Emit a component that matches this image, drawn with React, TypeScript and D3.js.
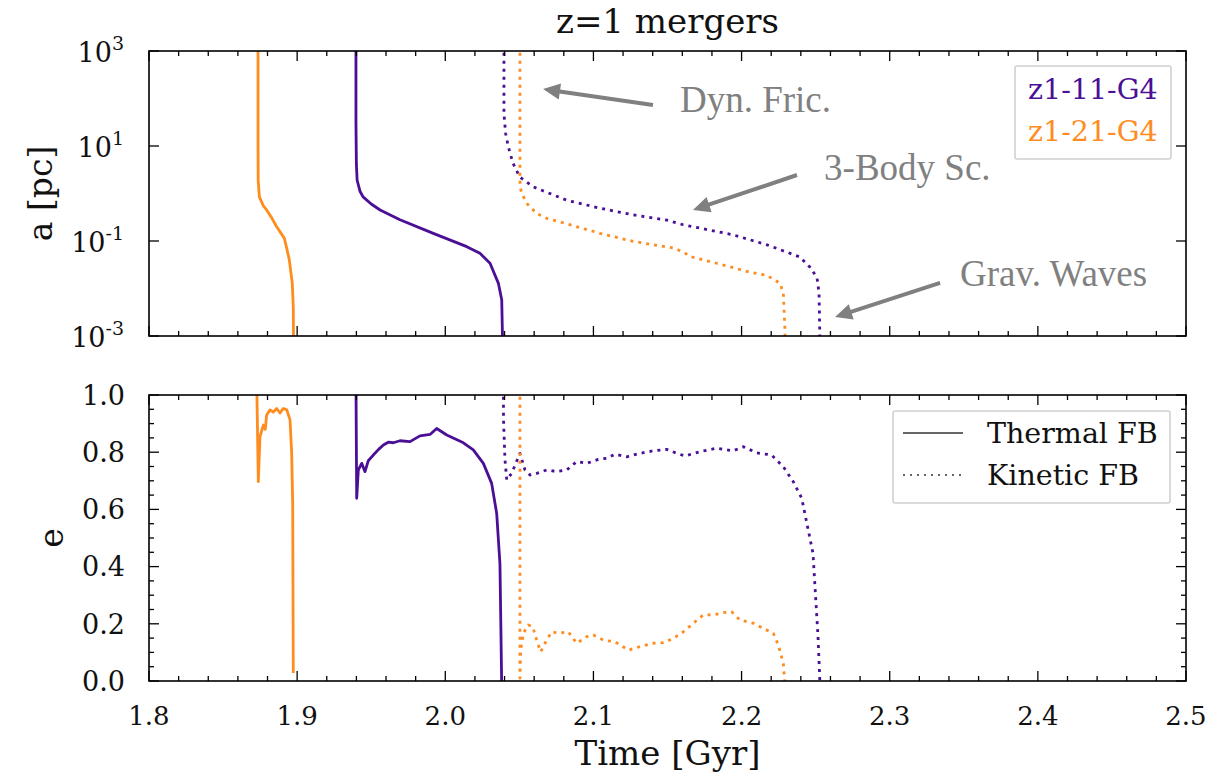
import React from "react";
import * as d3 from "d3";

// ---------- data ----------
const xMajorTicks = [1.8, 1.9, 2.0, 2.1, 2.2, 2.3, 2.4, 2.5];
const aTickExps = [-3, -1, 1, 3];
const eMajorTicks = [0, 0.2, 0.4, 0.6, 0.8, 1.0];

const runNames = ["z1-11-G4", "z1-21-G4"];
const runColors = ["#4b0f96", "#ff8c1f"];
const fbNames = ["Thermal FB", "Kinetic FB"];

// semi-major axis a [pc] vs time [Gyr]
const a11Thermal: [number, number][] = [
  [1.9397, 2000], [1.9397, 30], [1.94, 4.0], [1.9405, 1.9], [1.9425, 1.1], [1.9445, 0.85],
  [1.95, 0.6], [1.956, 0.45], [1.9694, 0.28], [1.9919, 0.145], [2.0145, 0.076], [2.0234, 0.055],
  [2.0302, 0.034], [2.0358, 0.013], [2.0381, 0.0058], [2.0388, 0.0005],
];
const a21Thermal: [number, number][] = [
  [1.8736, 2000], [1.8736, 10], [1.8737, 1.9], [1.8745, 0.85], [1.8772, 0.55], [1.8794, 0.45],
  [1.883, 0.3], [1.8862, 0.2], [1.8913, 0.115], [1.893, 0.07], [1.8947, 0.04], [1.8967, 0.013],
  [1.8974, 0.004], [1.8976, 0.0005],
];
const a11Kinetic: [number, number][] = [
  [2.0396, 2000], [2.0396, 49], [2.0407, 18.6], [2.0425, 9.8], [2.0456, 4.4], [2.0504, 2.2],
  [2.0594, 1.38], [2.082, 0.72], [2.1044, 0.49], [2.1267, 0.355], [2.1497, 0.275], [2.1605, 0.22],
  [2.1942, 0.135], [2.2172, 0.083], [2.2394, 0.046], [2.2462, 0.028], [2.2509, 0.017],
  [2.2523, 0.0081], [2.253, 0.0005],
];
const a21Kinetic: [number, number][] = [
  [2.0504, 2000], [2.0504, 1.9], [2.0505, 1.38], [2.0516, 1.01], [2.055, 0.62], [2.0617, 0.38],
  [2.0685, 0.3], [2.082, 0.23], [2.1044, 0.145], [2.1269, 0.098], [2.1539, 0.071], [2.1607, 0.059],
  [2.1652, 0.047], [2.1832, 0.034], [2.2057, 0.022], [2.2169, 0.019], [2.226, 0.0129],
  [2.2282, 0.0079], [2.2293, 0.0013], [2.2294, 0.0005],
];

// eccentricity e vs time [Gyr]
const e21Thermal: [number, number][] = [
  [1.8727, 1.05], [1.8738, 0.697], [1.8749, 0.854], [1.8772, 0.895], [1.8785, 0.88], [1.8794, 0.93],
  [1.8817, 0.948], [1.8839, 0.94], [1.8862, 0.953], [1.8884, 0.937], [1.8907, 0.953], [1.893, 0.948],
  [1.8952, 0.913], [1.8963, 0.797], [1.897, 0.622], [1.8974, 0.028],
];
const e11Thermal: [number, number][] = [
  [1.9397, 1.05], [1.9402, 0.639], [1.9413, 0.738], [1.9436, 0.761], [1.9458, 0.732], [1.948, 0.77],
  [1.9514, 0.79], [1.955, 0.81], [1.9582, 0.825], [1.9615, 0.835], [1.9649, 0.833], [1.9694, 0.84],
  [1.9762, 0.837], [1.9829, 0.857], [1.9897, 0.862], [1.9942, 0.883], [2.001, 0.86], [2.0122, 0.833],
  [2.0189, 0.808], [2.0257, 0.761], [2.0313, 0.691], [2.0347, 0.586], [2.0369, 0.41], [2.0381, -0.02],
];
const e11Kinetic: [number, number][] = [
  [2.0392, 1.05], [2.0393, 0.913], [2.0403, 0.773], [2.0415, 0.703], [2.0448, 0.726], [2.0504, 0.796],
  [2.0538, 0.738], [2.0572, 0.72], [2.0617, 0.726], [2.0685, 0.738], [2.0752, 0.732], [2.082, 0.738],
  [2.0887, 0.767], [2.0955, 0.761], [2.1033, 0.775], [2.109, 0.779], [2.1146, 0.793], [2.1225, 0.784],
  [2.1314, 0.796], [2.1404, 0.805], [2.1495, 0.81], [2.1562, 0.796], [2.1618, 0.787], [2.172, 0.802],
  [2.1832, 0.814], [2.1944, 0.805], [2.2012, 0.819], [2.2102, 0.798], [2.2203, 0.79], [2.2282, 0.749],
  [2.2349, 0.697], [2.2406, 0.639], [2.2482, 0.447], [2.2516, 0.155], [2.253, -0.02],
];
const e21Kinetic: [number, number][] = [
  [2.0504, 1.05], [2.0504, 0.01], [2.0509, 0.108], [2.0527, 0.167], [2.056, 0.196], [2.059, 0.19],
  [2.0617, 0.143], [2.0644, 0.102], [2.0673, 0.132], [2.0718, 0.172], [2.0763, 0.167], [2.083, 0.172],
  [2.0887, 0.132], [2.0955, 0.155], [2.0999, 0.161], [2.1067, 0.143], [2.1146, 0.137], [2.1236, 0.108],
  [2.1314, 0.12], [2.1404, 0.132], [2.1472, 0.134], [2.1539, 0.149], [2.1607, 0.172], [2.1674, 0.202],
  [2.1742, 0.231], [2.1809, 0.231], [2.1877, 0.239], [2.1933, 0.242], [2.1989, 0.213], [2.2079, 0.202],
  [2.2147, 0.184], [2.2214, 0.167], [2.2248, 0.126], [2.2282, 0.062], [2.2293, -0.02],
];

// annotations: label, text anchor (t, a), arrow tail (t, a), arrow tip (t, a)
const annLabels = ["Dyn. Fric.", "3-Body Sc.", "Grav. Waves"];
const annText: [number, number][] = [[2.1584, 52], [2.2557, 1.92], [2.3475, 0.0113]];
const annTail: [number, number][] = [[2.1402, 73], [2.2374, 2.45], [2.334, 0.0131]];
const annTip: [number, number][] = [[2.066, 158], [2.1672, 0.45], [2.2631, 0.0025]];

// ---------- layout ----------
const W = 1229;
const H = 777;
const L = 149;
const R = 1186;
const topT = 51;
const topB = 336;
const botT = 395;
const botB = 681;
const SERIF = "'DejaVu Serif', serif";
const TIMES = "'Liberation Serif', 'Times New Roman', serif";

export default function App() {
  const x = d3.scaleLinear().domain([1.8, 2.5]).range([L, R]);
  const yA = d3.scaleLog().domain([1e-3, 1e3]).range([topB, topT]);
  const yE = d3.scaleLinear().domain([0, 1]).range([botB, botT]);

  const lineA = d3.line<[number, number]>().x((d) => x(d[0])).y((d) => yA(d[1]));
  const lineE = d3.line<[number, number]>().x((d) => x(d[0])).y((d) => yE(d[1]));

  const xMinor = d3.range(0, 36).map((i) => 1.8 + i * 0.02);
  const eMinor = d3.range(0, 21).map((i) => i * 0.05);

  const dotted = "3 5";
  const lw = 2.8;

  const xTicks = (yEdgeBottom: number, yEdgeTop: number, key: string) => (
    <g key={key} stroke="#000" strokeWidth={1.3}>
      {xMinor.map((t, i) => {
        const major = i % 5 === 0;
        const len = major ? 10 : 5;
        return (
          <g key={i}>
            <line x1={x(t)} x2={x(t)} y1={yEdgeBottom} y2={yEdgeBottom - len} />
            <line x1={x(t)} x2={x(t)} y1={yEdgeTop} y2={yEdgeTop + len} />
          </g>
        );
      })}
    </g>
  );

  const arrow = (tail: [number, number], tip: [number, number], k: number) => {
    const x1 = x(tail[0]);
    const y1 = yA(tail[1]);
    const x2 = x(tip[0]);
    const y2 = yA(tip[1]);
    const dx = x2 - x1;
    const dy = y2 - y1;
    const len = Math.sqrt(dx * dx + dy * dy);
    const ux = dx / len;
    const uy = dy / len;
    const hl = 17;
    const hw = 8;
    const bx = x2 - ux * hl;
    const by = y2 - uy * hl;
    const pts = [
      [x2, y2],
      [bx - uy * hw, by + ux * hw],
      [bx + uy * hw, by - ux * hw],
    ]
      .map((p) => p.join(","))
      .join(" ");
    return (
      <g key={k}>
        <line x1={x1} y1={y1} x2={bx + ux * 2} y2={by + uy * 2} stroke="#808080" strokeWidth={4} />
        <polygon points={pts} fill="#808080" />
      </g>
    );
  };

  return (
    <svg
      width={W}
      height={H}
      style={{ position: "absolute", left: 0, top: 0, background: "#fff" }}
      fontFamily={SERIF}
    >
      <defs>
        <clipPath id="clipTop">
          <rect x={L} y={topT} width={R - L} height={topB - topT} />
        </clipPath>
        <clipPath id="clipBot">
          <rect x={L} y={botT} width={R - L} height={botB - botT} />
        </clipPath>
      </defs>
      <rect width={W} height={H} fill="#fff" />

      {/* title */}
      <text x={(L + R) / 2} y={33} textAnchor="middle" fontSize={34} fill="#111">
        z=1 mergers
      </text>

      {/* ---------- top panel ---------- */}
      <g clipPath="url(#clipTop)" fill="none" strokeLinejoin="round">
        <path d={lineA(a21Thermal) || ""} stroke={runColors[1]} strokeWidth={lw} />
        <path d={lineA(a11Thermal) || ""} stroke={runColors[0]} strokeWidth={lw} />
        <path d={lineA(a11Kinetic) || ""} stroke={runColors[0]} strokeWidth={lw} strokeDasharray={dotted} />
        <path d={lineA(a21Kinetic) || ""} stroke={runColors[1]} strokeWidth={lw} strokeDasharray={dotted} />
      </g>

      {xTicks(topB, topT, "xt-top")}
      <g stroke="#000" strokeWidth={1.3}>
        {aTickExps.map((e) => (
          <g key={e}>
            <line x1={L} x2={L + 10} y1={yA(10 ** e)} y2={yA(10 ** e)} />
            <line x1={R} x2={R - 10} y1={yA(10 ** e)} y2={yA(10 ** e)} />
          </g>
        ))}
      </g>
      {aTickExps.map((e) => (
        <text key={e} x={124} y={yA(10 ** e) + 11} textAnchor="end" fontSize={27} fill="#111">
          <tspan>10</tspan>
          <tspan dy={-12} fontSize={19}>{e < 0 ? "-" + Math.abs(e) : String(e)}</tspan>
        </text>
      ))}
      <rect x={L} y={topT} width={R - L} height={topB - topT} fill="none" stroke="#000" strokeWidth={1.6} />
      <text
        transform={`translate(52, ${(topT + topB) / 2}) rotate(-90)`}
        textAnchor="middle"
        fontSize={33}
        fill="#111"
      >
        a [pc]
      </text>

      {/* annotations */}
      {annLabels.map((lab, i) => (
        <text key={lab} x={x(annText[i][0])} y={yA(annText[i][1])} fontFamily={TIMES} fontSize={37} fill="#808080">
          {lab}
        </text>
      ))}
      {annLabels.map((_, i) => arrow(annTail[i], annTip[i], i))}

      {/* legend top */}
      <rect x={1015} y={66} width={156} height={93} fill="#fff" stroke="#d0d0d0" strokeWidth={1.6} rx={2} />
      {runNames.map((n, i) => (
        <text key={n} x={1028} y={99 + i * 42} fontSize={28.5} fill={runColors[i]}>
          {n}
        </text>
      ))}

      {/* ---------- bottom panel ---------- */}
      <g clipPath="url(#clipBot)" fill="none" strokeLinejoin="round">
        <path d={lineE(e21Thermal) || ""} stroke={runColors[1]} strokeWidth={lw} />
        <path d={lineE(e11Thermal) || ""} stroke={runColors[0]} strokeWidth={lw} />
        <path d={lineE(e11Kinetic) || ""} stroke={runColors[0]} strokeWidth={lw} strokeDasharray={dotted} />
        <path d={lineE(e21Kinetic) || ""} stroke={runColors[1]} strokeWidth={lw} strokeDasharray={dotted} />
      </g>

      {xTicks(botB, botT, "xt-bot")}
      <g stroke="#000" strokeWidth={1.3}>
        {eMinor.map((v, i) => {
          const len = i % 4 === 0 ? 10 : 5;
          return (
            <g key={i}>
              <line x1={L} x2={L + len} y1={yE(v)} y2={yE(v)} />
              <line x1={R} x2={R - len} y1={yE(v)} y2={yE(v)} />
            </g>
          );
        })}
      </g>
      {eMajorTicks.map((v) => (
        <text key={v} x={125} y={yE(v)} dy="0.36em" textAnchor="end" fontSize={27} fill="#111">
          {v.toFixed(1)}
        </text>
      ))}
      {xMajorTicks.map((t) => (
        <text key={t} x={x(t)} y={725} textAnchor="middle" fontSize={26} fill="#111">
          {t.toFixed(1)}
        </text>
      ))}
      <rect x={L} y={botT} width={R - L} height={botB - botT} fill="none" stroke="#000" strokeWidth={1.6} />
      <text
        transform={`translate(63, ${(botT + botB) / 2}) rotate(-90)`}
        textAnchor="middle"
        fontSize={33}
        fill="#111"
      >
        e
      </text>
      <text x={(L + R) / 2} y={765} textAnchor="middle" fontSize={34} fill="#111">
        Time [Gyr]
      </text>

      {/* legend bottom */}
      <rect x={893} y={411} width={277} height={92} fill="#fff" stroke="#d0d0d0" strokeWidth={1.6} rx={2} />
      <line x1={903} x2={963} y1={433} y2={433} stroke="#666" strokeWidth={2} />
      <line x1={903} x2={963} y1={475} y2={475} stroke="#666" strokeWidth={2} strokeDasharray="2 5" />
      {fbNames.map((n, i) => (
        <text key={n} x={987} y={443 + i * 42} fontSize={28.5} fill="#111">
          {n}
        </text>
      ))}
    </svg>
  );
}
